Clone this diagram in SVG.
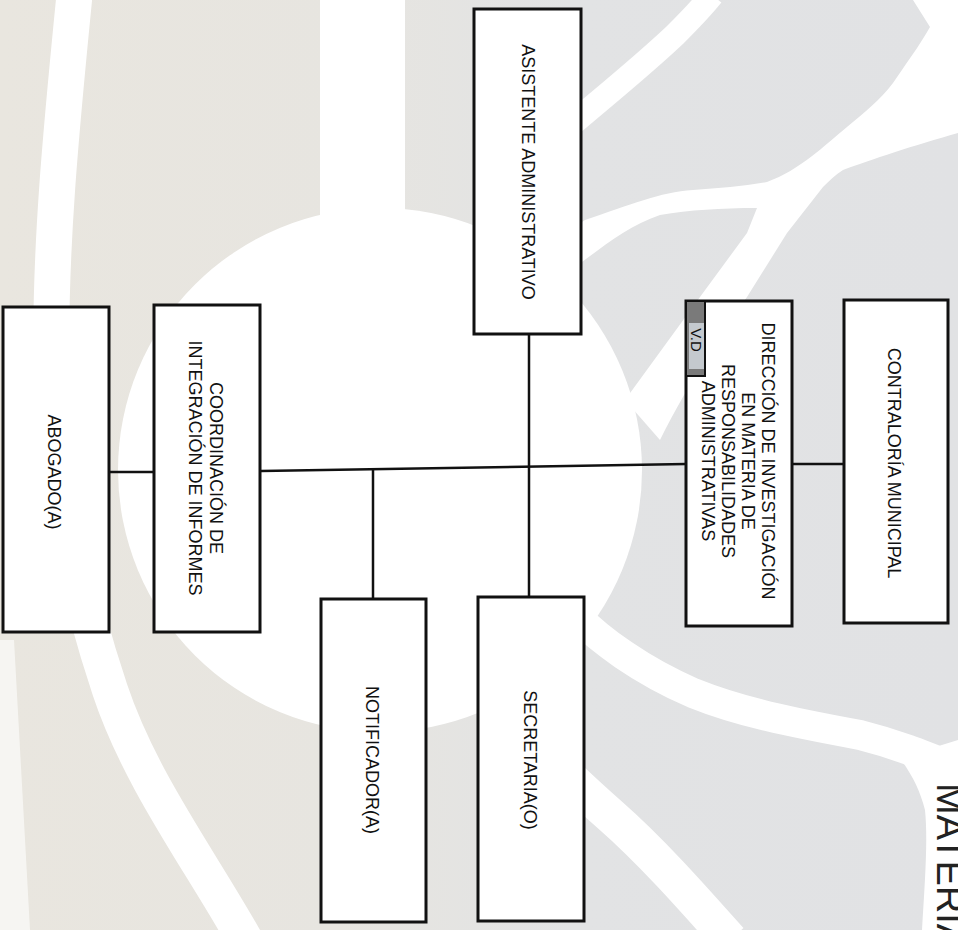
<svg xmlns="http://www.w3.org/2000/svg" width="958" height="930" viewBox="0 0 958 930">
  <defs>
    <linearGradient id="bgGrad" x1="0" y1="0" x2="1" y2="0">
      <stop offset="0" stop-color="#e9e6df"/>
      <stop offset="0.35" stop-color="#e7e5e0"/>
      <stop offset="0.6" stop-color="#e2e3e4"/>
      <stop offset="1" stop-color="#e1e2e4"/>
    </linearGradient>
  </defs>
  <style>
    .box { fill: #ffffff; stroke: #111111; stroke-width: 3; }
    .conn { stroke: #111111; stroke-width: 2.5; fill: none; }
    .lbl { font-family: "Liberation Sans", Arial, sans-serif; font-size: 18px; fill: #111111; text-anchor: middle; dominant-baseline: central; }
    .band { fill: none; stroke: #ffffff; stroke-linecap: butt; }
    .wfill { fill: #ffffff; }
  </style>

  <!-- background watermark -->
  <g id="background">
    <rect x="0" y="0" width="958" height="930" fill="url(#bgGrad)"/>
    <circle class="wfill" cx="380" cy="470" r="262"/>
    <rect class="wfill" x="320" y="0" width="85" height="240"/>
    <path class="band" stroke-width="36" d="M75,-10 C62,120 48,260 52,380 C56,500 80,600 110,690 C140,780 200,860 245,940"/>
    <path class="wfill" d="M0,640 L14,640 L30,930 L0,930 Z" fill-opacity="0.6"/>
    <path class="band" stroke-width="24" d="M565,130 C600,100 640,68 675,35 C690,20 700,10 712,-5"/>
    <path class="wfill" d="M582,222 L585,220 C630,205 660,192 693,190 C720,188 745,186 767,182 C800,170 825,145 847,127 C865,112 880,100 893,83 C905,65 920,45 930,27 L913,0 L958,0 L958,133 C915,145 870,160 843,170 C835,175 828,182 823,187 L787,233 L747,297 C730,320 690,380 660,440 L625,400 L700,297 L747,233 L757,208 C720,208 690,210 660,215 C630,225 605,245 582,262 Z"/>
    <path class="band" stroke-width="30" d="M575,615 C600,640 640,670 693,693 C740,712 790,722 860,735 C900,745 930,758 965,772"/>
    <path class="wfill" d="M958,740 L900,758 C912,775 920,790 925,810 C928,840 925,880 922,930 L958,930 Z"/>
    <path class="band" stroke-width="36" d="M480,690 C530,740 570,780 610,815 C650,850 690,895 730,940"/>
    <text x="0" y="0" transform="translate(937,783) rotate(90)" style="font-family:'Liberation Sans', Arial, sans-serif; font-size:38px; fill:#222222;">MATERIA</text>
  </g>

  <!-- connectors -->
  <g id="connectors">
    <line class="conn" x1="261" y1="471" x2="686" y2="464"/>
    <line class="conn" x1="529" y1="334" x2="529" y2="597"/>
    <line class="conn" x1="373" y1="469" x2="373" y2="599"/>
    <line class="conn" x1="109" y1="472" x2="154" y2="472"/>
    <line class="conn" x1="792" y1="464" x2="844" y2="464"/>
  </g>

  <!-- nodes -->
  <g id="asistente-administrativo">
    <rect class="box" x="474" y="9" width="107" height="325"/>
    <text class="lbl" transform="translate(527.5,172) rotate(90)">ASISTENTE ADMINISTRATIVO</text>
  </g>

  <g id="direccion-investigacion">
    <rect class="box" x="686" y="301" width="106" height="325"/>
    <text class="lbl" transform="translate(768,461) rotate(90)">DIRECCIÓN DE INVESTIGACIÓN</text>
    <text class="lbl" transform="translate(748,461) rotate(90)">EN MATERIA DE</text>
    <text class="lbl" transform="translate(728,461) rotate(90)">RESPONSABILIDADES</text>
    <text class="lbl" transform="translate(708,461) rotate(90)">ADMINISTRATIVAS</text>
    <g id="vd-tab">
      <rect x="686" y="301" width="19" height="75" fill="#7a7a7a" stroke="#111111" stroke-width="2"/>
      <rect x="689" y="323" width="15" height="46" fill="#c4c9ce"/>
      <text transform="translate(696.5,340) rotate(90)" style="font-family:'Liberation Sans', Arial, sans-serif; font-size:15px; fill:#111111; text-anchor:middle; dominant-baseline:central;">V.D</text>
    </g>
  </g>

  <g id="contraloria-municipal">
    <rect class="box" x="844" y="300" width="104" height="323"/>
    <text class="lbl" transform="translate(894,463) rotate(90)">CONTRALORÍA MUNICIPAL</text>
  </g>

  <g id="coordinacion-integracion">
    <rect class="box" x="154" y="305" width="106" height="327"/>
    <text class="lbl" transform="translate(216,468) rotate(90)">COORDINACIÓN DE</text>
    <text class="lbl" transform="translate(195,468) rotate(90)">INTEGRACIÓN DE INFORMES</text>
  </g>

  <g id="abogado">
    <rect class="box" x="3" y="307" width="106" height="325"/>
    <text class="lbl" transform="translate(54,472) rotate(90)">ABOGADO(A)</text>
  </g>

  <g id="notificador">
    <rect class="box" x="321" y="599" width="105" height="323"/>
    <text class="lbl" transform="translate(372,760) rotate(90)">NOTIFICADOR(A)</text>
  </g>

  <g id="secretaria">
    <rect class="box" x="478" y="597" width="106" height="324"/>
    <text class="lbl" transform="translate(530,760) rotate(90)">SECRETARIA(O)</text>
  </g>
</svg>
